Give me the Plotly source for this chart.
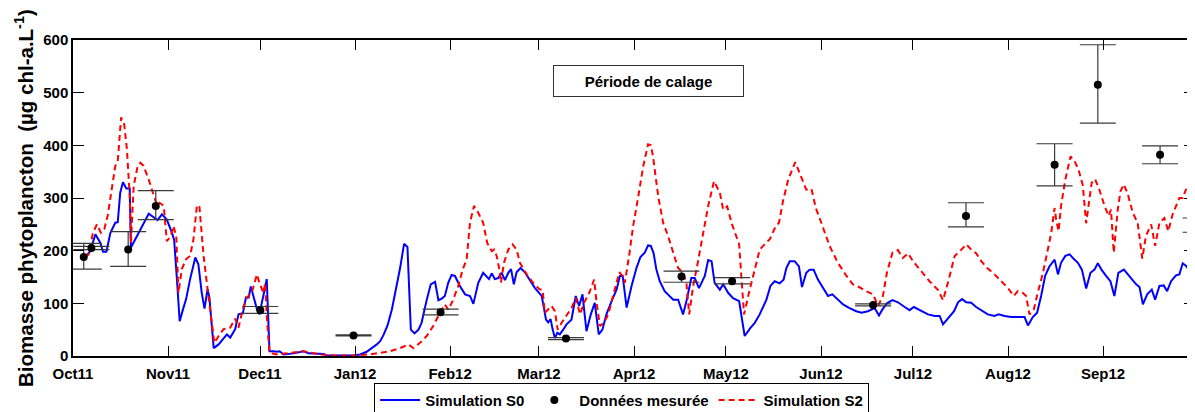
import pandas as pd
import plotly.graph_objects as go

# ---- data (day offsets from 2011-10-01, values in µg chl-a/L) ----
start_date = "2011-10-01"

s0_day = [4.0, 5.6, 7.3, 8.9, 9.8, 10.9, 12.2, 13.8, 14.6, 15.4, 16.3, 17.4, 18.5, 18.9, 24.7, 27.6, 29.0, 30.6,
          32.3, 33.0, 33.9, 34.8, 35.9, 36.9, 38.2, 39.9, 40.9, 42.0, 42.9, 43.9, 44.5, 45.9, 47.5, 49.1, 50.2,
          51.3, 52.9, 54.0, 55.4, 56.4, 57.3, 58.0, 58.9, 60.0, 60.8, 61.6, 62.4, 63.2, 64.1, 65.4, 66.5, 67.4,
          68.7, 71.9, 75.2, 76.8, 81.7, 82.8, 91.5, 93.7, 95.8, 99.1, 100.2, 101.3, 102.6, 104.0, 105.6, 106.7,
          108.0, 109.1, 110.2, 111.4, 112.7, 113.7, 115.4, 116.7, 118.1, 119.2, 120.3, 121.3, 122.4, 123.5,
          124.6, 126.2, 127.9, 129.5, 130.6, 132.2, 133.8, 134.9, 135.7, 136.6, 137.6, 138.7, 139.8, 140.9,
          142.0, 142.9, 143.8, 144.7, 146.0, 147.4, 149.0, 150.7, 152.9, 153.4, 154.3, 155.0, 155.8, 156.4,
          157.2, 158.0, 158.8, 159.9, 161.0, 162.6, 164.0, 165.1, 166.2, 167.5, 168.9, 170.2, 171.5, 172.7,
          174.0, 175.7, 177.3, 178.4, 179.3, 180.6, 182.2, 183.8, 185.1, 186.5, 187.6, 188.5, 189.4, 190.3,
          191.4, 193.0, 194.7, 195.8, 197.4, 199.0, 200.1, 201.7, 202.8, 204.2, 206.1, 207.2, 208.3, 209.3,
          211.0, 212.1, 213.7, 215.3, 217.3, 219.1, 220.8, 222.4, 224.0, 226.2, 227.5, 228.9, 230.5, 231.8,
          232.7, 233.8, 235.4, 236.8, 237.8, 239.2, 240.3, 241.6, 243.0, 244.7, 246.3, 247.7, 249.5, 251.2,
          253.3, 255.5, 257.2, 259.3, 261.5, 262.9, 264.0, 265.5, 267.3, 269.1, 271.3, 272.9, 274.3, 276.7,
          278.9, 281.1, 282.7, 283.8, 285.4, 287.4, 288.7, 290.0, 291.4, 293.0, 294.6, 296.3, 298.4, 300.6,
          301.9, 303.9, 306.1, 310.4, 311.5, 313.1, 314.5, 315.8, 317.1, 318.5, 320.2, 321.3, 322.3, 323.7,
          325.1, 326.5, 327.8, 329.1, 330.5, 331.9, 333.2, 334.3, 335.6, 337.0, 338.4, 339.7, 341.0, 342.8,
          344.6, 346.8, 347.9, 349.0, 350.4, 351.9, 353.0, 354.4, 355.8, 356.9, 358.2, 359.8, 360.9, 362.0,
          363.1, 364.5, 365.8]
s0_val = [187, 199, 231, 215, 198, 198, 234, 253, 254, 310, 330, 318, 318, 206, 270, 258, 269, 259,
          234, 220, 146, 66, 89, 108, 146, 187, 174, 120, 90, 127, 111, 15, 22, 33, 41,
          35, 51, 79, 81, 111, 111, 132, 111, 89, 79, 104, 123, 146, 9, 9, 8, 9,
          3, 5, 9, 5, 4, 1, 1, 3, 8, 22, 28, 40, 58, 88, 135, 167,
          213, 207, 50, 43, 50, 63, 107, 136, 141, 106, 109, 114, 139, 154,
          152, 133, 117, 114, 99, 139, 158, 150, 146, 157, 146, 148, 158, 144,
          158, 165, 136, 159, 167, 159, 145, 129, 114, 95, 69, 64, 70, 52,
          34, 44, 41, 50, 60, 69, 114, 95, 117, 47, 79, 101, 41, 50,
          79, 104, 126, 152, 152, 92, 133, 167, 188, 196, 210, 209, 195, 164,
          142, 123, 114, 107, 107, 79, 104, 148, 148, 129, 152, 182, 180, 139,
          126, 136, 120, 110, 104, 38, 52, 63, 79, 107, 133, 142, 138, 145,
          167, 180, 180, 170, 131, 158, 164, 164, 145, 129, 114, 117, 107, 98,
          91, 85, 82, 85, 91, 77, 88, 100, 106, 102, 93, 87, 93, 85,
          79, 76, 76, 60, 71, 85, 102, 108, 102, 101, 93, 87, 79, 76,
          79, 76, 74, 74, 58, 74, 82, 114, 152, 170, 183, 155, 177, 190,
          193, 184, 177, 164, 128, 158, 164, 176, 163, 152, 142, 114, 158, 164,
          152, 136, 131, 98, 117, 126, 107, 133, 134, 123, 142, 153, 155, 176,
          171, 159, 148]

s2_day = [4.0, 5.1, 6.5, 7.8, 9.1, 10.2, 11.3, 12.7, 13.8, 14.6, 15.7, 16.7, 17.6, 18.5, 18.9, 19.8, 21.1,
          22.0, 23.0, 24.7, 26.3, 27.4, 28.2, 29.6, 30.6, 31.9, 32.8, 33.7, 34.4, 35.5, 36.9, 38.2, 39.3, 40.4,
          41.2, 42.6, 43.9, 45.1, 46.1, 47.5, 49.1, 51.3, 52.9, 54.0, 55.4, 56.7, 58.3, 60.0, 60.8, 62.1, 62.7,
          63.2, 64.1, 66.5, 70.8, 75.2, 80.6, 85.0, 91.5, 96.9, 100.2, 103.4, 106.7, 109.4, 111.0, 113.2, 115.4,
          117.5, 119.7, 121.3, 122.4, 123.8, 125.7, 127.1, 128.4, 129.5, 130.8, 132.2, 133.8, 135.1, 136.6,
          137.4, 138.2, 139.1, 139.6, 140.6, 142.0, 143.4, 144.7, 145.8, 148.0, 150.1, 152.1, 153.2, 153.9,
          155.0, 156.1, 157.2, 158.1, 159.4, 161.0, 162.6, 164.0, 165.4, 166.7, 168.4, 170.0, 170.8, 171.9,
          173.2, 174.6, 176.2, 178.2, 179.3, 180.0, 181.4, 182.7, 184.4, 186.0, 187.6, 188.5, 189.2, 190.9,
          192.5, 194.1, 195.8, 197.4, 199.0, 200.1, 201.0, 202.3, 203.6, 205.5, 207.2, 209.1, 211.0, 212.1,
          213.4, 214.8, 216.2, 217.3, 218.0, 218.9, 220.5, 222.4, 224.0, 225.6, 227.3, 229.2, 230.3, 231.6,
          233.3, 235.6, 237.6, 239.2, 240.9, 242.3, 244.1, 246.8, 249.5, 252.3, 254.4, 256.4, 258.8, 261.0,
          262.6, 264.2, 265.5, 267.3, 269.1, 270.7, 272.4, 274.0, 276.7, 279.4, 282.2, 283.8, 285.4, 287.6,
          289.8, 291.4, 293.0, 294.6, 296.3, 298.4, 300.6, 302.8, 305.0, 306.9, 308.2, 309.8, 310.9, 312.0,
          313.4, 314.7, 316.4, 318.0, 319.1, 320.2, 320.7, 321.5, 322.3, 323.7, 325.4, 326.7, 328.0, 329.4,
          330.5, 331.4, 332.3, 333.4, 334.8, 336.5, 337.8, 338.6, 339.5, 340.8, 341.7, 342.8, 344.1, 345.7,
          347.3, 348.8, 350.0, 351.7, 353.0, 354.4, 356.0, 357.3, 358.7, 360.9, 362.0, 363.1, 364.5, 365.8]
s2_val = [187, 193, 234, 250, 234, 241, 266, 323, 361, 370, 453, 440, 392, 304, 215, 323, 361,
          367, 361, 335, 304, 286, 291, 285, 218, 228, 247, 225, 120, 165, 184, 190, 222, 285,
          286, 190, 127, 70, 25, 38, 51, 54, 71, 54, 89, 111, 120, 155, 139, 120, 139,
          76, 6, 3, 6, 9, 3, 1, 1, 3, 6, 9, 15, 22, 15, 25, 38,
          57, 82, 98, 88, 104, 133, 164, 183, 253, 285, 272, 253, 215, 199,
          202, 190, 164, 139, 177, 202, 212, 202, 177, 155, 139, 127, 125, 82,
          88, 95, 85, 50, 63, 76, 91, 110, 79, 101, 120, 145, 101, 57,
          63, 79, 114, 159, 152, 139, 190, 246, 303, 360, 402, 400, 379, 303,
          253, 228, 196, 167, 158, 139, 79, 133, 171, 234, 285, 332, 310, 278,
          284, 253, 228, 212, 152, 79, 120, 164, 202, 212, 222, 246, 253, 294,
          335, 368, 341, 316, 317, 281, 253, 209, 177, 152, 136, 131, 123, 117,
          95, 114, 158, 196, 201, 186, 195, 180, 161, 142, 125, 106, 139, 190,
          202, 212, 202, 195, 180, 166, 155, 142, 129, 114, 123, 120, 114, 79,
          88, 120, 158, 202, 234, 281, 259, 237, 285, 335, 379, 370, 354, 324,
          252, 291, 329, 336, 316, 285, 266, 278, 196, 278, 313, 326, 307, 272,
          253, 185, 228, 250, 209, 253, 262, 237, 269, 300, 300, 317, 300, 278]

obs_day = [3.5, 6.0, 18.0, 27.0, 61.1, 91.5, 119.9, 160.8, 198.5, 215.0, 261.0, 291.3, 320.2, 334.3, 354.6, 367.8]
obs_val = [188, 205, 202, 285, 87, 39, 83, 33, 151, 142, 97, 266, 363, 515, 382, 248]
obs_lo = [165, 202, 170, 259, 81, 38, 78, 31, 140, 137, 95, 245, 323, 442, 365, 235]
obs_hi = [214, 208, 236, 314, 94, 40, 89, 35, 161, 149, 99, 291, 403, 591, 399, 262]

y_ticks = [0, 100, 200, 300, 400, 500, 600]

# ---- build ----
base = pd.Timestamp(start_date)
def to_dates(days):
    return [base + pd.to_timedelta(d, unit="D") for d in days]

FONT = "Liberation Sans, Arial, sans-serif"

fig = go.Figure()
fig.add_trace(go.Scatter(x=to_dates(s0_day), y=s0_val, mode="lines", name="Simulation S0",
                         line=dict(color="#0000ff", width=2), legendrank=1))
fig.add_trace(go.Scatter(x=to_dates(s2_day), y=s2_val, mode="lines", name="Simulation S2",
                         line=dict(color="#ff0000", width=2, dash="6px,4px"), legendrank=3))
fig.add_trace(go.Scatter(
    x=to_dates(obs_day), y=obs_val, mode="markers", name="Données mesurée",
    marker=dict(color="black", size=8),
    error_y=dict(type="data", symmetric=False,
                 array=[h - v for h, v in zip(obs_hi, obs_val)],
                 arrayminus=[v - l for v, l in zip(obs_val, obs_lo)],
                 color="#3a3a3a", thickness=1.2, width=18),
    legendrank=2))

fig.add_annotation(xref="paper", yref="paper", x=0.5125, y=0.8687, xanchor="center", yanchor="middle",
                   text="<b>Période de calage</b>", showarrow=False,
                   font=dict(family=FONT, size=15, color="black"),
                   bordercolor="#333333", borderwidth=1, borderpad=0, width=189, height=30,
                   bgcolor="white")

fig.add_annotation(xref="paper", yref="paper", x=-0.0437, y=0.5, xanchor="center", yanchor="middle",
                   textangle=-90, showarrow=False,
                   text="<b>Biomasse phytoplancton\u00a0\u00a0(µg chl-a.L<sup>-1</sup>)</b>",
                   font=dict(family=FONT, size=20.5, color="black"))

# The page body adds an 8 px offset, so the figure is 8 px smaller and margins shifted.
fig.update_layout(
    width=1187, height=404,
    margin=dict(l=65, r=0, t=32, b=56, autoexpand=False),
    paper_bgcolor="white", plot_bgcolor="white",
    font=dict(family=FONT, color="black"),
    showlegend=True,
    legend=dict(orientation="h", x=0.489, xanchor="center", y=-0.085, yanchor="top",
                bordercolor="black", borderwidth=1, bgcolor="white",
                font=dict(family=FONT, size=15, color="black", weight="bold"),
                itemwidth=40, tracegroupgap=0),
    xaxis=dict(type="date", range=[base, base + pd.Timedelta(days=366)],
               tick0=start_date, dtick="M1", tickformat="%b%y", automargin=False,
               ticks="inside", ticklen=10, tickwidth=1, tickcolor="black", ticklabelstandoff=3,
               showline=True, linecolor="black", linewidth=1.5, mirror="ticks",
               showgrid=False, zeroline=False,
               tickfont=dict(family=FONT, size=15, color="black", weight="bold")),
    yaxis=dict(range=[0, 600], tickvals=y_ticks, automargin=False,
               ticks="inside", ticklen=11, tickwidth=1, tickcolor="black",
               showline=True, linecolor="black", linewidth=1.5, mirror="ticks",
               showgrid=False, zeroline=False,
               tickfont=dict(family=FONT, size=15, color="black", weight="bold")),
)

fig.write_html("out.html")
